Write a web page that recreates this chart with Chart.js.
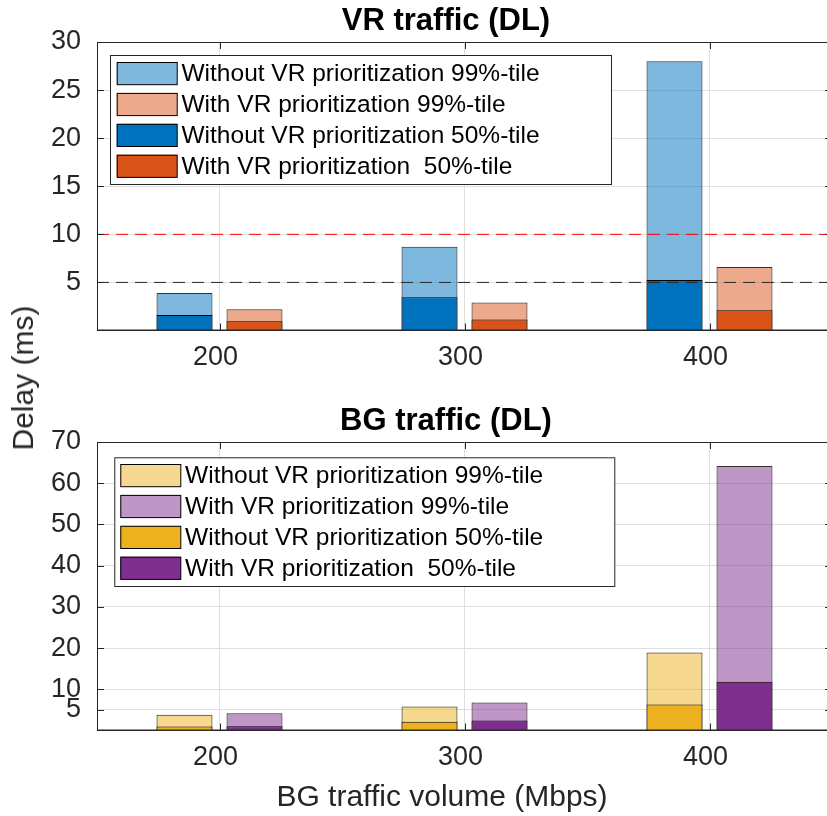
<!DOCTYPE html>
<html>
<head>
<meta charset="utf-8">
<script src="https://cdn.jsdelivr.net/npm/chart.js@4.4.1/dist/chart.umd.min.js"></script>
<style>
  body { margin: 0; width: 827px; height: 816px; overflow: hidden; background: #fff; position: relative;
         font-family: "Liberation Sans", Arial, sans-serif; }
  canvas { position: absolute; left: 0; }
  #vrChart { top: 0; }
  #bgChart { top: 400px; }
  .lbl { position: absolute; font-size: 30px; line-height: 30px; color: #262626; white-space: nowrap; }
  #ylabel { left: 22.5px; top: 377.5px; transform: translate(-50%, -50%) rotate(-90deg); }
  #xlabel { left: 442px; top: 781px; transform: translateX(-50%); }
</style>
</head>
<body>
<canvas id="vrChart" width="832" height="400"></canvas>
<canvas id="bgChart" width="832" height="400"></canvas>
<div class="lbl" id="ylabel">Delay (ms)</div>
<div class="lbl" id="xlabel">BG traffic volume (Mbps)</div>
<script>
// data (ms)
const categories = ["200", "300", "400"];
const seriesNames = [
  "Without VR prioritization 99%-tile",
  "With VR prioritization 99%-tile",
  "Without VR prioritization 50%-tile",
  "With VR prioritization  50%-tile"
];

const vrWithout99 = [3.9, 8.7, 28.0];
const vrWith99 = [2.2, 2.9, 6.6];
const vrWithout50 = [1.6, 3.45, 5.25];
const vrWith50 = [0.95, 1.15, 2.1];

const bgWithout99 = [3.8, 5.8, 18.9];
const bgWith99 = [4.2, 6.8, 64.2];
const bgWithout50 = [1.0, 2.1, 6.3];
const bgWith50 = [1.05, 2.4, 11.8];

const vrTicks = [5, 10, 15, 20, 25, 30];
const bgTicks = [5, 10, 20, 30, 40, 50, 60, 70];
const vrLimits = [10, 5];

const FONT = '"Liberation Sans", Arial, sans-serif';
const AXIS = "#262626";
const GRID = "#dfdfdf";

// draws what Chart.js has no option for: title, top border, inward ticks, limit lines, boxed legend
const matlabLook = {
  id: "matlabLook",
  afterDatasetsDraw(chart, args, opts) {
    const ctx = chart.ctx;
    const a = chart.chartArea;
    const y = chart.scales.y;
    const x = chart.scales.x;
    ctx.save();

    (opts.lines || []).forEach(l => {
      const py = y.getPixelForValue(l.value);
      ctx.strokeStyle = l.color;
      ctx.lineWidth = 1;
      ctx.setLineDash([12, 7]);
      ctx.beginPath();
      ctx.moveTo(a.left, py);
      ctx.lineTo(a.right, py);
      ctx.stroke();
    });
    ctx.setLineDash([]);

    ctx.strokeStyle = AXIS;
    ctx.lineWidth = 1;
    ctx.beginPath();
    ctx.moveTo(a.left, a.top + 0.5);
    ctx.lineTo(a.right, a.top + 0.5);
    ctx.moveTo(a.left, a.bottom - 0.5);
    ctx.lineTo(a.right, a.bottom - 0.5);
    y.ticks.forEach(t => {
      const py = Math.round(y.getPixelForValue(t.value)) + 0.5;
      ctx.moveTo(a.left, py); ctx.lineTo(a.left + 7, py);
      ctx.moveTo(a.right - 7, py); ctx.lineTo(a.right, py);
    });
    categories.forEach((c, i) => {
      const px = Math.round(x.getPixelForValue(i)) + 0.5;
      ctx.moveTo(px, a.bottom); ctx.lineTo(px, a.bottom - 7);
      ctx.moveTo(px, a.top); ctx.lineTo(px, a.top + 7);
    });
    ctx.stroke();

    // legend
    const lg = opts.legend;
    const bx = a.left + lg.dx, by = a.top + lg.dy;
    ctx.fillStyle = "#fff";
    ctx.fillRect(bx, by, lg.w, lg.h);
    ctx.strokeStyle = AXIS;
    ctx.strokeRect(bx + 0.5, by + 0.5, lg.w, lg.h);
    ctx.font = "24.5px " + FONT;
    ctx.textBaseline = "middle";
    ctx.textAlign = "left";
    seriesNames.forEach((name, i) => {
      const cy = by + lg.first + i * 30.9;
      ctx.fillStyle = lg.colors[i];
      ctx.fillRect(bx + lg.px, cy - 11.3, 60.5, 22.7);
      ctx.strokeStyle = "#000";
      ctx.strokeRect(bx + lg.px + 0.5, cy - 11.3 + 0.5, 60, 22.2);
      ctx.fillStyle = "#000";
      ctx.fillText(name, bx + lg.px + 64.8, cy + 1);
    });

    // title
    ctx.font = "bold 31px " + FONT;
    ctx.textAlign = "center";
    ctx.textBaseline = "alphabetic";
    ctx.fillStyle = "#000";
    ctx.fillText(opts.title, 446, opts.titleY);
    ctx.restore();
  }
};

function makeChart(id, title, titleY, v99a, v99b, v50a, v50b, ticks, max, colors, legend, lines) {
  const bar = { categoryPercentage: 0.5714, barPercentage: 0.8, borderWidth: 1 };
  new Chart(document.getElementById(id), {
    type: "bar",
    data: {
      labels: categories,
      datasets: [
        { ...bar, label: seriesNames[0], data: v99a, stack: "without", order: 2,
          backgroundColor: colors.a99, borderColor: "rgba(0,0,0,0.8)" },
        { ...bar, label: seriesNames[1], data: v99b, stack: "with", order: 2,
          backgroundColor: colors.b99, borderColor: "rgba(0,0,0,0.8)" },
        { ...bar, label: seriesNames[2], data: v50a, stack: "without", order: 1,
          backgroundColor: colors.a50, borderColor: "#000" },
        { ...bar, label: seriesNames[3], data: v50b, stack: "with", order: 1,
          backgroundColor: colors.b50, borderColor: "#000" }
      ]
    },
    options: {
      responsive: false,
      animation: false,
      devicePixelRatio: 1,
      layout: { padding: { top: 42, left: 0, right: 0, bottom: 0 } },
      plugins: {
        legend: { display: false },
        tooltip: { enabled: false },
        matlabLook: { title: title, titleY: titleY, legend: legend, lines: lines }
      },
      scales: {
        x: {
          stacked: true,
          offset: true,
          grid: { offset: false, color: GRID, drawTicks: false },
          border: { color: AXIS },
          ticks: { color: AXIS, font: { size: 27, family: FONT }, padding: 11, labelOffset: -4 },
          afterFit: s => { s.height = 69.5; }
        },
        y: {
          stacked: false,
          min: 0,
          max: max,
          afterBuildTicks: s => { s.ticks = ticks.map(v => ({ value: v })); },
          grid: { color: GRID, drawTicks: false },
          border: { color: AXIS },
          ticks: { color: AXIS, font: { size: 27, family: FONT }, padding: 16 },
          afterFit: s => { s.width = 97; }
        }
      }
    },
    plugins: [matlabLook]
  });
}

makeChart("vrChart", "VR traffic (DL)", 30, vrWithout99, vrWith99, vrWithout50, vrWith50, vrTicks, 30,
  { a99: "rgba(0,114,189,0.5)", b99: "rgba(217,83,25,0.5)", a50: "#0072BD", b50: "#D95319" },
  { dx: 13, dy: 13, w: 501, h: 129, px: 6.7, first: 18.3,
    colors: ["#80B9DE", "#ECA98C", "#0072BD", "#D95319"] },
  [{ value: vrLimits[0], color: "#ff0000" }, { value: vrLimits[1], color: "#262626" }]);

makeChart("bgChart", "BG traffic (DL)", 29.5, bgWithout99, bgWith99, bgWithout50, bgWith50, bgTicks, 70,
  { a99: "rgba(237,177,32,0.5)", b99: "rgba(126,47,142,0.5)", a50: "#EDB120", b50: "#7E2F8E" },
  { dx: 17.3, dy: 15.3, w: 500, h: 128.7, px: 6, first: 18,
    colors: ["#F6D890", "#BF97C7", "#EDB120", "#7E2F8E"] },
  []);
</script>
</body>
</html>
